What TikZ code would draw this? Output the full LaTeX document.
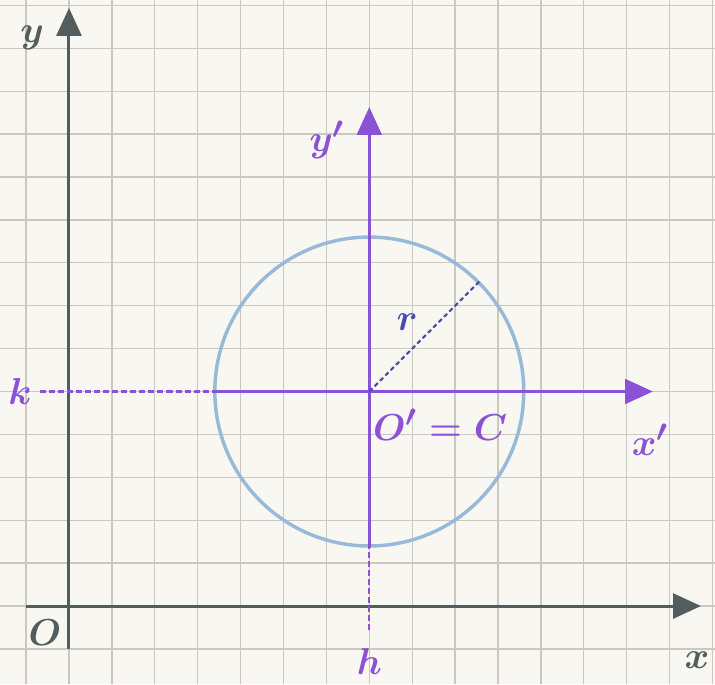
\documentclass[tikz,border=0pt]{standalone}
\usepackage{tikz}
\usetikzlibrary{arrows.meta,positioning,calc}
\definecolor{papier}{RGB}{249,247,241}
\definecolor{quad}{RGB}{204,199,191}
\definecolor{ardoise}{RGB}{82,94,94}
\definecolor{vio}{RGB}{139,82,214}
\definecolor{cercle}{RGB}{152,186,216}
\definecolor{indi}{RGB}{72,78,170}

\begin{document}
\begin{tikzpicture}[
  ax/.style={draw=ardoise, line width=2pt, -{Triangle[length=0.65cm,width=0.58cm]}},
  axp/.style={draw=vio, line width=1.6pt, -{Triangle[length=0.65cm,width=0.58cm]}},
  guide/.style={draw=vio, line width=1.4pt, dash pattern=on 4pt off 2pt},
  lbl/.style={font=\fontsize{28}{30}\selectfont\boldmath, inner sep=0pt}
]
  % papier quadrille
  \useasboundingbox[fill=papier] (-1.608,-1.818) rectangle (15.058,14.126);
  \draw[quad, line width=0.9pt] (-1.608,-1.818) grid (15.058,14.126);

  % repere Oxy
  \coordinate (O) at (0,0);
  \coordinate (ybas) at (0,-1);
  \coordinate (yhaut) at (0,13.94);
  \coordinate (xg) at (-1,0);
  \coordinate (xd) at (14.73,0);
  \draw[ax] (ybas) -- (yhaut);
  \draw[ax] (xg) -- (xd);

  % cercle de centre C
  \coordinate (C) at (7,5);
  \node[circle, draw=cercle, line width=2.3pt, minimum size=7.2cm, inner sep=0pt] (cerc) at (C) {};

  % repere O'x'y'
  \coordinate (yph) at (7,11.63);
  \coordinate (xph) at (13.61,5);
  \coordinate (hpt) at (7,-0.56);
  \coordinate (kpt) at (-0.68,5);
  \draw[axp] (cerc.south) -- (yph);
  \draw[axp] (cerc.west) -- (xph);
  \draw[guide] (hpt) -- (cerc.south);
  \draw[guide] (kpt) -- (cerc.west);

  % rayon
  \draw[indi, line width=1.4pt, dash pattern=on 3pt off 2pt] (C) -- (cerc.45);

  % etiquettes
  \node[lbl, text=ardoise] (ly) at (-0.86,13.24) {$y$};
  \node[lbl, text=ardoise] (lO) at (-0.56,-0.61) {$O$};
  \node[lbl, text=ardoise] (lx) at (14.64,-1.26) {$x$};
  \node[lbl, text=vio] (lyp) at (6.01,10.86) {$y'$};
  \node[lbl, text=vio] (lxp) at (13.54,3.87) {$x'$};
  \node[lbl, text=vio] (lk) at (-1.14,5) {$k$};
  \node[lbl, text=vio] (lh) at (7,-1.3) {$h$};
  \node[lbl, text=vio] (lC) at (8.65,4.22) {$O'=C$};
  \node[lbl, text=indi] (lr) at (7.88,6.62) {$r$};
\end{tikzpicture}
\end{document}
